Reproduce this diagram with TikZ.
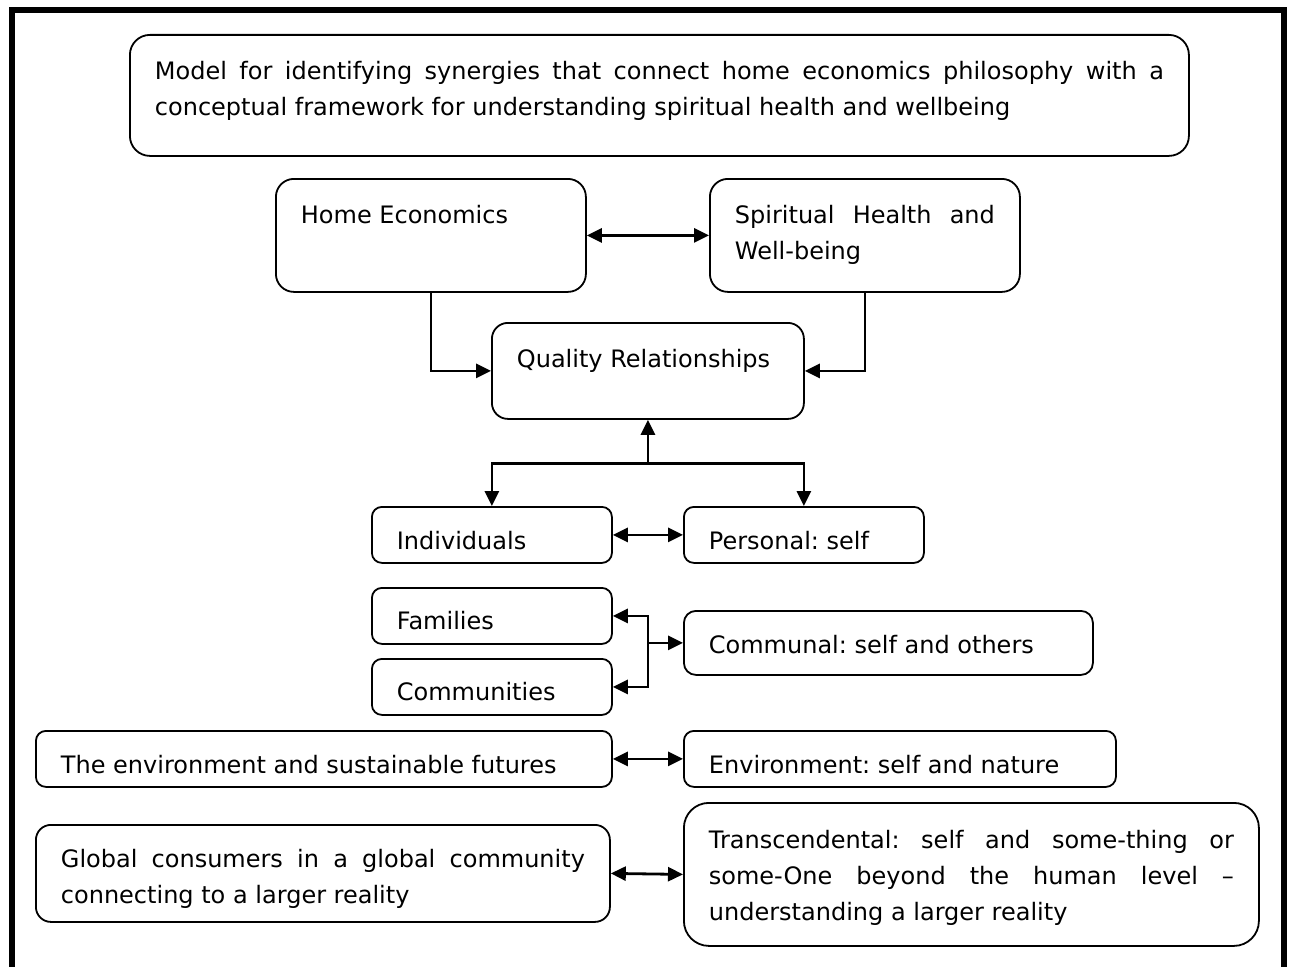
\documentclass[tikz,border=0pt]{standalone}
\usepackage{fontspec}
\setmainfont{DejaVu Sans}
\usetikzlibrary{arrows.meta}
\hyphenpenalty=10000
\frenchspacing

\begin{document}
\begin{tikzpicture}[x=1pt,y=-1pt]

%%%%%%%%%%%%%%%%%%%%%%
%%%	   Def style    %%%
%%%%%%%%%%%%%%%%%%%%%%

\def \cadre{6pt}
\def \trait{1.8pt}
\def \fleche{2.8pt}

\tikzset{
  boite/.style={draw, line width=\trait, rounded corners=10pt, anchor=north west,
    inner xsep=25pt, inner ysep=0pt, align=justify, font=\fontsize{24}{36}\selectfont},
  lien/.style={line width=\fleche, -{Triangle[length=15pt,width=14pt]}},
  lienbis/.style={line width=\fleche, {Triangle[length=15pt,width=14pt]}-{Triangle[length=15pt,width=14pt]}}
}

\useasboundingbox (0,0) rectangle (1292,966);

% Cadre de la figure (ouvert en bas)
\draw[line width=\cadre] (12,10) rectangle (1284,1000);

%%%%%%%%%%%%%%%%%%%%%%
%%%	    Boites      %%%
%%%%%%%%%%%%%%%%%%%%%%

\node[boite, rounded corners=20pt, text width=1009pt, text height=45pt, text depth=76pt] (title) at (129,34)
  {Model for identifying synergies that connect home economics philosophy with a\linebreak conceptual framework for understanding spiritual health and wellbeing};

\node[boite, rounded corners=18pt, text width=260pt, text height=45pt, text depth=68pt] (homeeco) at (275,178) {Home Economics};
\node[boite, rounded corners=18pt, text width=260pt, text height=45pt, text depth=68pt] (spirit) at (709,178) {Spiritual Health and\linebreak Well-being};

\node[boite, rounded corners=16pt, text width=262pt, text height=45pt, text depth=51pt] (quality) at (491,322) {Quality Relationships};

% Colonne de gauche
\node[boite, text width=190pt, text height=43pt, text depth=13pt] (indiv) at (371,506) {Individuals};
\node[boite, text width=190pt, text height=42pt, text depth=14pt] (families) at (371,587) {Families};
\node[boite, text width=190pt, text height=42pt, text depth=14pt] (commun) at (371,658) {Communities};
\node[boite, text width=526pt, text height=43pt, text depth=13pt] (envfut) at (35,730) {The environment and sustainable futures};
\node[boite, rounded corners=15pt, text width=524pt, text height=43pt, text depth=54pt] (global) at (35,824)
  {Global consumers in a global community\linebreak connecting to a larger reality};

% Colonne de droite
\node[boite, text width=190pt, text height=43pt, text depth=13pt] (personal) at (683,506) {Personal: self};
\node[boite, rounded corners=12pt, text width=359pt, text height=43pt, text depth=21pt] (communal) at (683,610) {Communal: self and others};
\node[boite, text width=382pt, text height=43pt, text depth=13pt] (envself) at (683,730) {Environment: self and nature};
\node[boite, rounded corners=25pt, text width=525pt, text height=46pt, text depth=97pt] (transc) at (683,802)
  {Transcendental: self and some-thing or\linebreak some-One beyond the human level –\linebreak understanding a larger reality};

%%%%%%%%%%%%%%%%%%%%%%
%%%	    Liens       %%%
%%%%%%%%%%%%%%%%%%%%%%

\draw[lienbis] (homeeco.east) -- (spirit.west);
\draw[lien] (homeeco.south) |- (quality.west);
\draw[lien] (spirit.south) |- (quality.east);

% On se place sous la boite centrale pour la fourche
\path (quality.south) ++(0,44) coordinate (split);
\draw[lien] (split) -- (quality.south);
\draw[lien] (split) -| (indiv.north);
\draw[lien] (split) -| (personal.north);

\draw[lienbis] (indiv.east) -- (personal.west);

\coordinate (fork) at (quality.south |- communal.west);
\draw[lien] (fork) -- (communal.west);
\draw[lien] (fork) |- (families.east);
\draw[lien] (fork) |- (commun.east);

\draw[lienbis] (envfut.east) -- (envself.west);
\draw[lienbis] (global.east) -- (transc.west);

\end{tikzpicture}
\end{document}
